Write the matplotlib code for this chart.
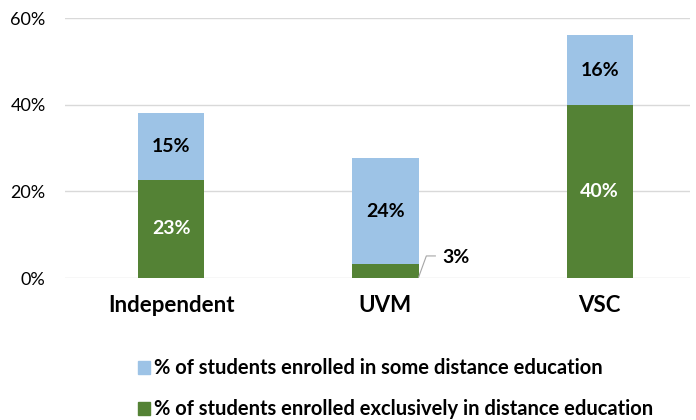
import matplotlib
matplotlib.use("Agg")
import matplotlib.pyplot as plt
from matplotlib.patches import Patch

categories = ["Independent", "UVM", "VSC"]
exclusive = [22.7, 3.2, 39.9]
some = [15.4, 24.5, 16.2]
exclusive_labels = ["23%", "3%", "40%"]
some_labels = ["15%", "24%", "16%"]

green = "#548235"
blue = "#9DC3E6"
plt.rcParams['font.family'] = ['Lato', 'DejaVu Sans']

fig = plt.figure(figsize=(6.96, 4.2), dpi=100)
ax = fig.add_axes([0.0934, 0.338, 0.8976, 0.619])
x = list(range(len(categories)))
w = 0.31
ax.bar(x, exclusive, width=w, color=green, zorder=3)
ax.bar(x, some, width=w, bottom=exclusive, color=blue, zorder=3)

for i in x:
    if exclusive[i] >= 10:
        ax.text(i, exclusive[i] / 2, exclusive_labels[i], ha='center', va='center',
                color='white', fontsize=14, fontweight='bold', zorder=4)
    else:
        ax.plot([i + w / 2, i + 0.191, i + 0.233], [0.2, 5.1, 5.1],
                color='#A6A6A6', lw=0.8, zorder=4, clip_on=False)
        ax.text(i + 0.266, 4.7, exclusive_labels[i], ha='left', va='center',
                fontsize=14, fontweight='bold', color='black', zorder=4)
    ax.text(i, exclusive[i] + some[i] / 2, some_labels[i], ha='center', va='center',
            color='black', fontsize=14, fontweight='bold', zorder=4)

ax.set_ylim(0, 60)
ax.set_xlim(-0.495, 2.42)
ax.set_yticks([0, 20, 40, 60])
ax.set_yticklabels(["0%", "20%", "40%", "60%"], fontsize=13)
ax.set_xticks(x)
ax.set_xticklabels(categories, fontsize=16, fontweight='bold')
ax.grid(axis='y', color='#D9D9D9', lw=1, zorder=0)
for s in ax.spines.values():
    s.set_visible(False)
ax.tick_params(axis='both', length=0)
ax.tick_params(axis='y', pad=14)
ax.tick_params(axis='x', pad=12)

handles = [Patch(color=blue, label="% of students enrolled in some distance education"),
           Patch(color=green, label="% of students enrolled exclusively in distance education")]
fig.legend(handles=handles, loc='upper left', bbox_to_anchor=(0.172, 0.19),
           frameon=False, prop={'size': 14.5, 'weight': 'bold'}, handlelength=0.6,
           handleheight=0.6, handletextpad=0.2, labelspacing=1.05)
fig.savefig("out.png", dpi=100)
